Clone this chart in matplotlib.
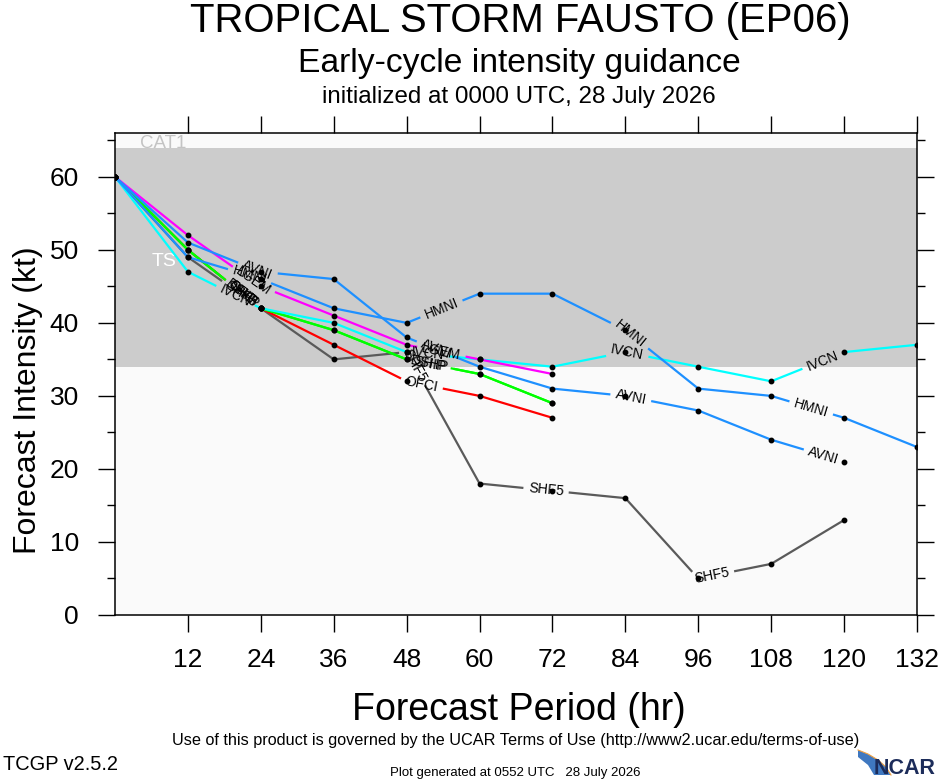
import numpy as np
import matplotlib
matplotlib.use("Agg")
import matplotlib.pyplot as plt
from matplotlib.patches import Polygon
from matplotlib.lines import Line2D

plt.rcParams['font.family'] = ['Liberation Sans', 'DejaVu Sans']

# ---------------- data ----------------
nan = np.nan
hours = [0, 12, 24, 36, 48, 60, 72, 84, 96, 108, 120, 132]

shf5 = [60, 49, 42, 35, 36, 18, 17, 16, 5, 7, 13, nan]
ofci = [60, 50, 42, 37, 32, 30, 27, nan, nan, nan, nan, nan]
dshp = [60, 50, 42, 39, 35, 33, 29, nan, nan, nan, nan, nan]
ship = [60, 50, 42, 39, 35, 33, 29, nan, nan, nan, nan, nan]
ivcn = [60, 47, 42, 40, 36, 35, 34, 36, 34, 32, 36, 37]
lgem = [60, 52, 45, 41, 37, 35, 33, nan, nan, nan, nan, nan]
hmni = [60, 49, 46, 42, 40, 44, 44, 39, 31, 30, 27, 23]
avni = [60, 51, 47, 46, 38, 34, 31, 30, 28, 24, 21, nan]

model_names = ['SHF5', 'OFCI', 'DSHP', 'SHIP', 'IVCN', 'LGEM', 'HMNI', 'AVNI']
model_values = [shf5, ofci, dshp, ship, ivcn, lgem, hmni, avni]
model_colors = ['#5a5a5a', '#ff0000', '#00ff00', '#00ff00', '#00ffff',
                '#ff00ff', '#1e90ff', '#1e90ff']

band_edges = [0, 34, 64, 66]
band_colors = ['#fafafa', '#cccccc', '#fafafa']
band_labels = ['TS', 'CAT1']

xtick_vals = hours[1:]
ytick_vals = [0, 10, 20, 30, 40, 50, 60]
yminor_vals = [5, 15, 25, 35, 45, 55, 65]

# ---------------- figure ----------------
W, H = 940, 780
fig = plt.figure(figsize=(W / 100, H / 100), dpi=100)
fig.patch.set_facecolor('white')
ax = fig.add_axes([115 / W, 165 / H, 802 / W, 482 / H])
ax.set_xlim(0, 132)
ax.set_ylim(0, 66)

for lo, hi, c in zip(band_edges[:-1], band_edges[1:], band_colors):
    ax.axhspan(lo, hi, color=c, lw=0, zorder=0)

ax.text(6.1, 47.8, band_labels[0], color='white', fontsize=14, ha='left',
        va='baseline', zorder=1)
ax.text(4.1, band_edges[2], band_labels[1], color='#c4c4c4', fontsize=13.5,
        ha='left', va='baseline', zorder=1, clip_on=True)

renderer = fig.canvas.get_renderer()
trans = ax.transData
inv = trans.inverted()

LABEL_START, LABEL_STEP = 173.0, 202.0
LFS = 10.0

for name, vals, col in zip(model_names, model_values, model_colors):
    x = np.array(hours, float)
    y = np.array(vals, float)
    m = ~np.isnan(y)
    x, y = x[m], y[m]
    P = trans.transform(np.column_stack([x, y]))
    seg = np.hypot(*np.diff(P, axis=0).T)
    cum = np.concatenate([[0.0], np.cumsum(seg)])
    total = cum[-1]

    t = ax.text(0, 0, name, fontsize=LFS)
    w = t.get_window_extent(renderer).width
    t.remove()

    centers = []
    s = LABEL_START
    while s + w / 2 < total:
        centers.append(s)
        s += LABEL_STEP
    gap = w + 10

    def point_at(sv):
        i = np.searchsorted(cum, sv, side='right') - 1
        i = min(max(i, 0), len(seg) - 1)
        f = (sv - cum[i]) / seg[i] if seg[i] > 0 else 0.0
        return P[i] + f * (P[i + 1] - P[i]), i

    keep = []
    a = 0.0
    for c in centers:
        keep.append((a, c - gap / 2))
        a = c + gap / 2
    keep.append((a, total))
    for a, b in keep:
        if b <= a:
            continue
        pa, _ = point_at(a)
        pb, _ = point_at(b)
        inner = P[(cum > a) & (cum < b)]
        pts = np.vstack([pa[None, :], inner, pb[None, :]])
        d = inv.transform(pts)
        ax.plot(d[:, 0], d[:, 1], color=col, lw=1.6, zorder=3,
                solid_capstyle='butt', solid_joinstyle='round')
    for c in centers:
        pc, i = point_at(c)
        dx, dy = P[i + 1] - P[i]
        ang = np.degrees(np.arctan2(dy, dx))
        if ang > 90:
            ang -= 180
        if ang < -90:
            ang += 180
        d = inv.transform(pc[None, :])[0]
        ax.text(d[0], d[1], name, fontsize=LFS, rotation=ang,
                rotation_mode='anchor', ha='center', va='center',
                color='black', zorder=4)
    ax.plot(x, y, ls='none', marker='o', color='black', ms=3.2, zorder=5)

ax.set_xticks(xtick_vals)
ax.set_xticklabels([str(v) for v in xtick_vals])
ax.set_yticks(ytick_vals)
ax.set_yticklabels([str(v) for v in ytick_vals])
ax.set_yticks(yminor_vals, minor=True)
ax.tick_params(axis='both', which='major', direction='out', length=12,
               width=1.0, labelsize=19, top=True, right=True,
               labeltop=False, labelright=False)
ax.tick_params(axis='y', which='major', pad=14)
ax.tick_params(axis='x', which='major', pad=11.5)
ax.tick_params(axis='y', which='minor', direction='out', length=6,
               width=1.0, left=True, right=True)
ax.tick_params(axis='x', which='minor', bottom=False, top=False)
for sp in ax.spines.values():
    sp.set_linewidth(1.1)
    sp.set_zorder(6)


def ftext(xp, yp, s, width_px, ha='center', va='baseline', rot=0, **kw):
    t = fig.text(xp / W, 1 - yp / H, s, fontsize=20, ha=ha, va=va, **kw)
    w = t.get_window_extent(renderer).width
    t.set_fontsize(20 * width_px / w)
    if rot:
        t.set_rotation(rot)
    return t


ftext(520.5, 32, 'TROPICAL STORM FAUSTO (EP06)', 661)
ftext(519, 72, 'Early-cycle intensity guidance', 442)
ftext(519, 103, 'initialized at 0000 UTC, 28 July 2026', 394)
ftext(518.5, 720, 'Forecast Period (hr)', 333)
ftext(28, 400, 'Forecast Intensity (kt)', 307, va='center', rot=90)
ftext(515.5, 745, 'Use of this product is governed by the UCAR Terms of Use '
      '(http://www2.ucar.edu/terms-of-use)', 685)
ftext(3, 770, 'TCGP v2.5.2', 115, ha='left')
ftext(515, 776, 'Plot generated at 0552 UTC   28 July 2026', 250)
ftext(874, 774, 'NCAR', 62, ha='left', color='#1c2c5a', fontweight='bold')

# NCAR swoosh
sw = [(858, 750), (868, 754), (878, 760), (886, 767), (891, 775),
      (874, 775), (868, 765), (858, 757)]
fig.add_artist(Polygon([(px / W, 1 - py / H) for px, py in sw],
                       closed=True, transform=fig.transFigure,
                       facecolor='#3f78c0', edgecolor='none'))
arc = [(858, 750), (868, 754), (878, 760), (886, 767), (891, 775)]
fig.add_artist(Line2D([p[0] / W for p in arc], [1 - p[1] / H for p in arc],
                      transform=fig.transFigure, color='#f0a040', lw=0.8))

fig.savefig('out.png', dpi=100, facecolor='white')
